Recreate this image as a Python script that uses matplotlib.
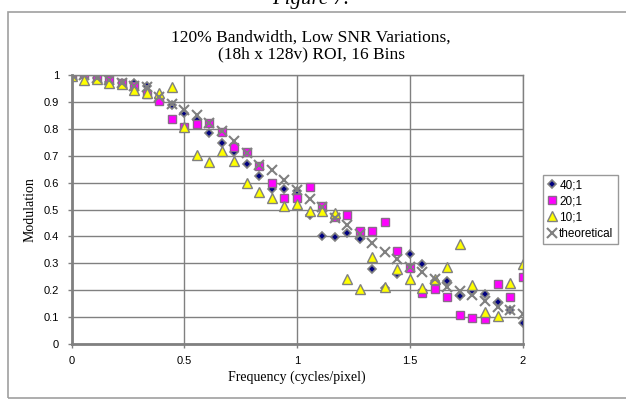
import matplotlib
matplotlib.use('Agg')
import matplotlib.pyplot as plt
from matplotlib.patches import Rectangle

# ################## data
freq = [0.000, 0.056, 0.111, 0.167, 0.222, 0.278, 0.333, 0.389, 0.444, 0.500,
        0.556, 0.611, 0.667, 0.722, 0.778, 0.833, 0.889, 0.944, 1.000, 1.056,
        1.111, 1.167, 1.222, 1.278, 1.333, 1.389, 1.444, 1.500, 1.556, 1.611,
        1.667, 1.722, 1.778, 1.833, 1.889, 1.944, 2.000]

snr40 = [1.000, 1.000, 0.990, 0.975, 0.970, 0.970, 0.960, 0.915, 0.890, 0.857,
         0.832, 0.783, 0.747, 0.714, 0.671, 0.623, 0.575, 0.577, 0.570, 0.480,
         0.400, 0.399, 0.413, 0.389, 0.280, 0.210, 0.262, 0.333, 0.296, 0.235,
         0.235, 0.177, 0.192, 0.187, 0.155, 0.127, 0.077]

snr20 = [1.000, 1.005, 0.990, 0.980, 0.970, 0.959, 0.928, 0.902, 0.838, 0.808,
         0.817, 0.822, 0.787, 0.733, 0.713, 0.662, 0.600, 0.543, 0.543, 0.583,
         0.514, 0.472, 0.481, 0.420, 0.420, 0.453, 0.346, 0.284, 0.188, 0.206,
         0.176, 0.108, 0.097, 0.092, 0.222, 0.176, 0.250]

snr10 = [0.995, 0.980, 0.985, 0.970, 0.965, 0.946, 0.933, 0.932, 0.956, 0.808,
         0.703, 0.676, 0.717, 0.679, 0.600, 0.564, 0.541, 0.512, 0.522, 0.493,
         0.495, 0.486, 0.240, 0.203, 0.323, 0.212, 0.279, 0.243, 0.210, 0.243,
         0.287, 0.370, 0.218, 0.118, 0.103, 0.226, 0.296]

theoretical = [1.000, 1.000, 0.990, 0.980, 0.970, 0.960, 0.955, 0.920, 0.893, 0.870,
               0.850, 0.820, 0.790, 0.754, 0.710, 0.667, 0.648, 0.611, 0.574, 0.538,
               0.510, 0.470, 0.442, 0.410, 0.376, 0.343, 0.317, 0.285, 0.268, 0.240,
               0.213, 0.197, 0.183, 0.160, 0.138, 0.127, 0.110]

xticks = [0, 0.5, 1, 1.5, 2]
xticklabels = ['0', '0.5', '1', '1.5', '2']
yticks = [0, 0.1, 0.2, 0.3, 0.4, 0.5, 0.6, 0.7, 0.8, 0.9, 1]
yticklabels = ['0', '0.1', '0.2', '0.3', '0.4', '0.5', '0.6', '0.7', '0.8', '0.9', '1']

# ################## figure
fig = plt.figure(figsize=(6.26, 4.0), dpi=100)
ax = fig.add_axes([0.1145, 0.14, 0.7202, 0.6725])

grey = '#808080'

ax.plot(freq, snr40, linestyle='none', marker='D', markersize=4.5,
        markerfacecolor='#000080', markeredgecolor=grey, markeredgewidth=1.2, label='40;1')
ax.plot(freq, snr20, linestyle='none', marker='s', markersize=5.5,
        markerfacecolor='#FF00FF', markeredgecolor='#8a6a8a', markeredgewidth=1.0, label='20;1')
ax.plot(freq, snr10, linestyle='none', marker='^', markersize=6.5,
        markerfacecolor='#FFFF00', markeredgecolor=grey, markeredgewidth=1.0, label='10;1')
ax.plot(freq, theoretical, linestyle='none', marker='x', markersize=6.5,
        markeredgecolor=grey, markeredgewidth=1.5, label='theoretical')

ax.set_xlim(0, 2)
ax.set_ylim(0, 1)
ax.set_xticks(xticks)
ax.set_xticklabels(xticklabels, fontsize=8, family='Liberation Sans')
ax.set_yticks(yticks)
ax.set_yticklabels(yticklabels, fontsize=8, family='Liberation Sans')
ax.tick_params(axis='both', colors=grey, length=3, width=1, labelcolor='black', pad=6)

ax.grid(True, color=grey, linewidth=1)
ax.set_axisbelow(True)
for s in ax.spines.values():
    s.set_color(grey)
    s.set_linewidth(1)
ax.spines['left'].set_linewidth(2)
ax.spines['bottom'].set_linewidth(2)

ax.set_xlabel('Frequency (cycles/pixel)', fontsize=10, family='Liberation Serif', labelpad=3)
ax.set_ylabel('Modulation', fontsize=10, family='Liberation Serif', labelpad=5)

fig.text(0.497, 0.885, '120% Bandwidth, Low SNR Variations,\n(18h x 128v) ROI, 16 Bins',
         ha='center', va='center', fontsize=12.5, family='Liberation Serif', linespacing=1.1)

# cut-off caption above the chart frame
fig.text(0.497, 0.978, 'Figure 7.', ha='center', va='bottom', fontsize=15,
         family='Liberation Serif', style='italic')

# chart frame
fig.patches.append(Rectangle((0.012, 0.004), 0.99, 0.966, transform=fig.transFigure,
                             fill=False, edgecolor='#a0a0a0', linewidth=1.2))

leg = ax.legend(loc='center left', bbox_to_anchor=(1.045, 0.5),
                prop={'family': 'Liberation Sans', 'size': 8.5},
                frameon=True, fancybox=False, borderpad=0.4, labelspacing=0.35,
                handlelength=0.8, handletextpad=0.2, borderaxespad=0)
leg.get_frame().set_edgecolor(grey)
leg.get_frame().set_linewidth(1)

fig.savefig('out.png', dpi=100)
